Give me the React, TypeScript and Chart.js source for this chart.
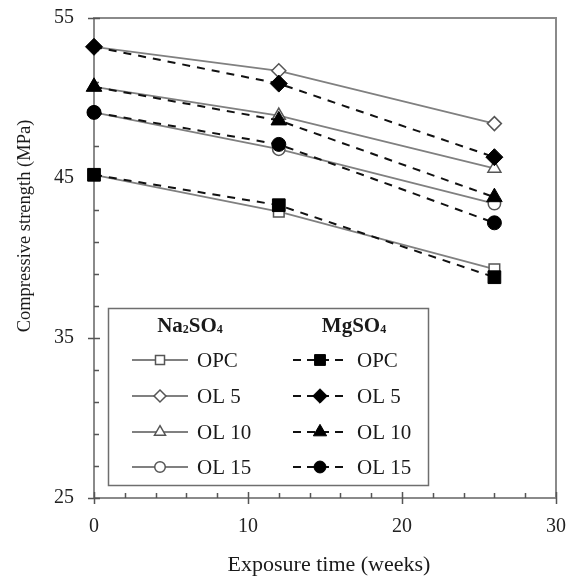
import React, { useEffect, useRef } from 'react';
import { Chart, registerables } from 'chart.js';

Chart.register(...registerables);

// ---- data ----
const weeks = [0, 12, 26];
const seriesLabels = ['OPC', 'OL 5', 'OL 10', 'OL 15'];
const na2so4OPC = [45.2, 42.9, 39.3];
const na2so4OL5 = [53.2, 51.7, 48.4];
const na2so4OL10 = [50.7, 48.9, 45.6];
const na2so4OL15 = [49.1, 46.8, 43.4];
const mgso4OPC = [45.2, 43.3, 38.8];
const mgso4OL5 = [53.2, 50.9, 46.3];
const mgso4OL10 = [50.7, 48.6, 43.8];
const mgso4OL15 = [49.1, 47.1, 42.2];
const xTickValues = [0, 10, 20, 30];
const yTickValues = [25, 35, 45, 55];
const xMinorTicks = [2, 4, 6, 8, 12, 14, 16, 18, 22, 24, 26, 28];
const yMinorTicks = [27, 29, 31, 33, 37, 39, 41, 43, 47, 49, 51, 53];
const xTitle = 'Exposure time (weeks)';
const yTitle = 'Compressive strength (MPa)';

const SERIF = '"Liberation Serif", "Times New Roman", serif';
const styles = ['rect', 'rectRot', 'triangle', 'circle'];
const openRadius = [7.5, 7, 7.5, 6.2];
const filledRadius = [9, 8.5, 9, 7];
const GRAY_LINE = '#808080';
const OPEN_STROKE = '#555555';
const FRAME = '#8a8a8a';

function drawMarker(ctx: CanvasRenderingContext2D, style: string, x: number, y: number, r: number, fill: string, stroke: string, lw: number) {
  ctx.save();
  ctx.beginPath();
  if (style === 'rect') {
    const s = Math.SQRT1_2 * r;
    ctx.rect(x - s, y - s, 2 * s, 2 * s);
  } else if (style === 'rectRot') {
    ctx.moveTo(x, y - r);
    ctx.lineTo(x + r, y);
    ctx.lineTo(x, y + r);
    ctx.lineTo(x - r, y);
    ctx.closePath();
  } else if (style === 'triangle') {
    const a = Math.PI / 2;
    ctx.moveTo(x + Math.cos(-a) * r, y + Math.sin(-a) * r);
    ctx.lineTo(x + Math.cos(-a + (2 * Math.PI) / 3) * r, y + Math.sin(-a + (2 * Math.PI) / 3) * r);
    ctx.lineTo(x + Math.cos(-a + (4 * Math.PI) / 3) * r, y + Math.sin(-a + (4 * Math.PI) / 3) * r);
    ctx.closePath();
  } else {
    ctx.arc(x, y, r, 0, Math.PI * 2);
  }
  ctx.fillStyle = fill;
  ctx.fill();
  ctx.lineWidth = lw;
  ctx.strokeStyle = stroke;
  ctx.stroke();
  ctx.restore();
}

function drawChem(ctx: CanvasRenderingContext2D, parts: [string, boolean][], cx: number, y: number) {
  const big = `bold 21px ${SERIF}`;
  const small = `bold 12px ${SERIF}`;
  let total = 0;
  for (const [t, sub] of parts) {
    ctx.font = sub ? small : big;
    total += ctx.measureText(t).width;
  }
  let x = cx - total / 2;
  ctx.textAlign = 'left';
  ctx.textBaseline = 'alphabetic';
  for (const [t, sub] of parts) {
    ctx.font = sub ? small : big;
    ctx.fillText(t, x, sub ? y + 1 : y);
    x += ctx.measureText(t).width;
  }
}

const customPlugin = {
  id: 'customFrame',
  beforeDatasetsDraw(chart: any) {
    const { ctx, chartArea: ca, scales } = chart;
    const xs = scales.x;
    const ys = scales.y;
    ctx.save();
    ctx.strokeStyle = FRAME;
    ctx.lineWidth = 2;
    ctx.strokeRect(ca.left, ca.top, ca.right - ca.left, ca.bottom - ca.top);
    ctx.lineWidth = 1.5;
    ctx.strokeStyle = '#555';
    ctx.beginPath();
    for (const v of xTickValues) {
      const px = Math.round(xs.getPixelForValue(v)) + 0.5;
      ctx.moveTo(px, ca.bottom - 6);
      ctx.lineTo(px, ca.bottom + 6);
    }
    for (const v of xMinorTicks) {
      const px = Math.round(xs.getPixelForValue(v)) + 0.5;
      ctx.moveTo(px, ca.bottom - 5);
      ctx.lineTo(px, ca.bottom);
    }
    for (const v of yTickValues) {
      const py = Math.round(ys.getPixelForValue(v)) + 0.5;
      ctx.moveTo(ca.left - 6, py);
      ctx.lineTo(ca.left + 6, py);
    }
    for (const v of yMinorTicks) {
      const py = Math.round(ys.getPixelForValue(v)) + 0.5;
      ctx.moveTo(ca.left, py);
      ctx.lineTo(ca.left + 5, py);
    }
    ctx.stroke();
    ctx.restore();
  },
  afterDraw(chart: any) {
    const { ctx, chartArea: ca } = chart;
    ctx.save();
    ctx.fillStyle = '#1a1a1a';
    ctx.font = `22px ${SERIF}`;
    ctx.textAlign = 'center';
    ctx.textBaseline = 'middle';
    ctx.fillText(xTitle, (ca.left + ca.right) / 2 + 4, ca.bottom + 67);
    ctx.save();
    ctx.translate(25, ca.top + 208);
    ctx.rotate(-Math.PI / 2);
    ctx.font = `18.5px ${SERIF}`;
    ctx.fillText(yTitle, 0, 0);
    ctx.restore();

    const bx = ca.left + 14;
    const by = ca.bottom - 190;
    const bw = 320;
    const bh = 177;
    ctx.fillStyle = '#ffffff';
    ctx.fillRect(bx, by, bw, bh);
    ctx.strokeStyle = '#6e6e6e';
    ctx.lineWidth = 1.5;
    ctx.strokeRect(bx + 0.5, by + 0.5, bw, bh);

    ctx.fillStyle = '#1a1a1a';
    drawChem(ctx, [['Na', false], ['2', true], ['SO', false], ['4', true]], bx + 82, by + 24);
    drawChem(ctx, [['Mg', false], ['SO', false], ['4', true]], bx + 246, by + 24);

    const rowY = [by + 52, by + 88, by + 124, by + 159];
    for (let i = 0; i < seriesLabels.length; i++) {
      const y = rowY[i];
      ctx.save();
      ctx.strokeStyle = GRAY_LINE;
      ctx.lineWidth = 1.8;
      ctx.beginPath();
      ctx.moveTo(bx + 24, y);
      ctx.lineTo(bx + 80, y);
      ctx.stroke();
      ctx.restore();
      drawMarker(ctx, styles[i], bx + 52, y, openRadius[i] * 0.85, '#ffffff', OPEN_STROKE, 1.5);
      ctx.save();
      ctx.strokeStyle = '#111111';
      ctx.lineWidth = 2;
      ctx.setLineDash([8, 6]);
      ctx.beginPath();
      ctx.moveTo(bx + 185, y);
      ctx.lineTo(bx + 239, y);
      ctx.stroke();
      ctx.restore();
      drawMarker(ctx, styles[i], bx + 212, y, filledRadius[i] * 0.85, '#000000', '#000000', 1);
      ctx.fillStyle = '#1a1a1a';
      ctx.font = `21px ${SERIF}`;
      ctx.textAlign = 'left';
      ctx.textBaseline = 'middle';
      ctx.fillText(seriesLabels[i], bx + 89, y + 1);
      ctx.fillText(seriesLabels[i], bx + 249, y + 1);
    }
    ctx.restore();
  },
};

export default function App() {
  const canvasRef = useRef<HTMLCanvasElement | null>(null);

  useEffect(() => {
    const canvas = canvasRef.current;
    if (!canvas) return;
    const naSets = [na2so4OPC, na2so4OL5, na2so4OL10, na2so4OL15];
    const mgSets = [mgso4OPC, mgso4OL5, mgso4OL10, mgso4OL15];
    const toPts = (arr: number[]) => arr.map((v, i) => ({ x: weeks[i], y: v }));
    const datasets: any[] = [];
    naSets.forEach((arr, i) => {
      datasets.push({
        label: 'Na2SO4 ' + seriesLabels[i],
        data: toPts(arr),
        order: 2,
        borderColor: GRAY_LINE,
        borderWidth: 1.8,
        pointStyle: styles[i],
        pointRadius: openRadius[i],
        pointBackgroundColor: '#ffffff',
        pointBorderColor: OPEN_STROKE,
        pointBorderWidth: 1.5,
        fill: false,
        tension: 0,
        clip: false,
      });
    });
    mgSets.forEach((arr, i) => {
      datasets.push({
        label: 'MgSO4 ' + seriesLabels[i],
        data: toPts(arr),
        order: 1,
        borderColor: '#111111',
        borderWidth: 2,
        borderDash: [8, 7],
        pointStyle: styles[i],
        pointRadius: filledRadius[i],
        pointBackgroundColor: '#000000',
        pointBorderColor: '#000000',
        pointBorderWidth: 1,
        fill: false,
        tension: 0,
        clip: false,
      });
    });

    const chart = new Chart(canvas, {
      type: 'line',
      data: { datasets },
      options: {
        animation: false,
        responsive: true,
        maintainAspectRatio: false,
        layout: { padding: { top: 18, right: 13, left: 0, bottom: 0 } },
        plugins: { legend: { display: false }, tooltip: { enabled: false } },
        scales: {
          x: {
            type: 'linear',
            min: 0,
            max: 30,
            afterFit: (s: any) => {
              s.height = 79;
              s.paddingLeft = 0;
              s.paddingRight = 0;
              s.paddingTop = 0;
              s.paddingBottom = 0;
            },
            afterBuildTicks: (s: any) => { s.ticks = xTickValues.map((v) => ({ value: v })); },
            grid: { display: false, drawTicks: false },
            border: { display: false },
            ticks: { color: '#222', padding: 17, font: { family: SERIF, size: 20 } },
          },
          y: {
            type: 'linear',
            min: 25,
            max: 55,
            afterFit: (s: any) => {
              s.width = 94;
              s.paddingLeft = 0;
              s.paddingRight = 0;
              s.paddingTop = 0;
              s.paddingBottom = 0;
            },
            afterBuildTicks: (s: any) => { s.ticks = yTickValues.map((v) => ({ value: v })); },
            grid: { display: false, drawTicks: false },
            border: { display: false },
            ticks: { color: '#222', padding: 20, font: { family: SERIF, size: 20 } },
          },
        },
      },
      plugins: [customPlugin],
    });
    return () => chart.destroy();
  }, []);

  return (
    <div style={{ position: 'fixed', left: 0, top: 0, width: 569, height: 577, background: '#fff' }}>
      <canvas ref={canvasRef} />
    </div>
  );
}
